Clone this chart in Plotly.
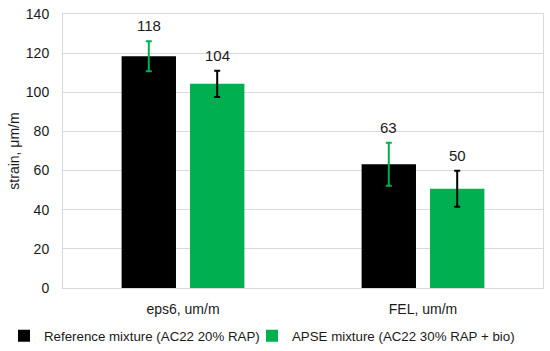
import plotly.graph_objects as go

categories = ["eps6, um/m", "FEL, um/m"]
series_names = ["Reference mixture (AC22 20% RAP)", "APSE mixture (AC22 30% RAP + bio)"]
ref_values = [118.4, 63.2]
ref_errors = [7.7, 11.0]
apse_values = [104.3, 50.7]
apse_errors = [6.7, 9.2]
label_values = [[118, 63], [104, 50]]
y_ticks = [0, 20, 40, 60, 80, 100, 120, 140]

BLACK = "#000000"
GREEN = "#00B050"
TXT = "#1a1a1a"
GRID = "#D9D9D9"
FONT = "Liberation Sans"

W, H = 550, 351
ML, MR, MT, MB = 63, 7, 14, 63
PW, PH = W - ML - MR, H - MT - MB

BARGAP = 0.43
GROUPGAP = 0.205

fig = go.Figure()
fig.add_trace(go.Bar(
    x=categories, y=ref_values, name=series_names[0], legend="legend",
    marker=dict(color=BLACK, line=dict(width=0)),
    error_y=dict(type="data", array=ref_errors, visible=True, color=GREEN, thickness=2, width=3),
))
fig.add_trace(go.Bar(
    x=categories, y=apse_values, name=series_names[1], legend="legend2",
    marker=dict(color=GREEN, line=dict(width=0)),
    error_y=dict(type="data", array=apse_errors, visible=True, color=BLACK, thickness=2, width=3),
))

slot = (1 - BARGAP) / 2
offsets = [-slot / 2, slot / 2]
all_vals = [ref_values, apse_values]
all_errs = [ref_errors, apse_errors]
for s in range(2):
    for i in range(len(categories)):
        fig.add_annotation(
            x=i + offsets[s], y=all_vals[s][i] + all_errs[s][i], xref="x", yref="y",
            text=str(label_values[s][i]), showarrow=False, yanchor="bottom", yshift=5,
            font=dict(family=FONT, size=15, color=TXT),
        )

legend_common = dict(orientation="h", yanchor="middle", y=-(336 - (H - MB)) / PH,
                     xanchor="left", font=dict(family=FONT, size=13.3, color=TXT),
                     itemwidth=30, borderwidth=0, bgcolor="rgba(0,0,0,0)")

fig.update_layout(
    width=W, height=H,
    margin=dict(l=ML, r=MR, t=MT, b=MB, autoexpand=False),
    barmode="group", bargap=BARGAP, bargroupgap=GROUPGAP,
    plot_bgcolor="white", paper_bgcolor="white",
    font=dict(family=FONT, size=14, color=TXT),
    showlegend=True,
    legend=dict(x=(4 - ML) / PW, **legend_common),
    legend2=dict(x=(252 - ML) / PW, **legend_common),
)
fig.update_xaxes(
    range=[-0.5, 1.5], showline=True, mirror=True, linecolor=GRID, linewidth=1,
    ticks="outside", ticklen=8, tickcolor="rgba(0,0,0,0)",
    tickfont=dict(family=FONT, size=14, color=TXT),
)
fig.update_yaxes(
    range=[0, 140], tickvals=y_ticks, showgrid=True, gridcolor=GRID, gridwidth=1,
    showline=True, mirror=True, linecolor=GRID, linewidth=1, zeroline=False,
    tickfont=dict(family=FONT, size=14, color=TXT), ticks="outside", ticklen=10, tickcolor="rgba(0,0,0,0)",
    title=dict(text="strain, μm/m", font=dict(family=FONT, size=14, color=TXT), standoff=2),
)

fig.write_html("out.html", config={"displayModeBar": False},
               post_script="document.body.style.margin='0';")
